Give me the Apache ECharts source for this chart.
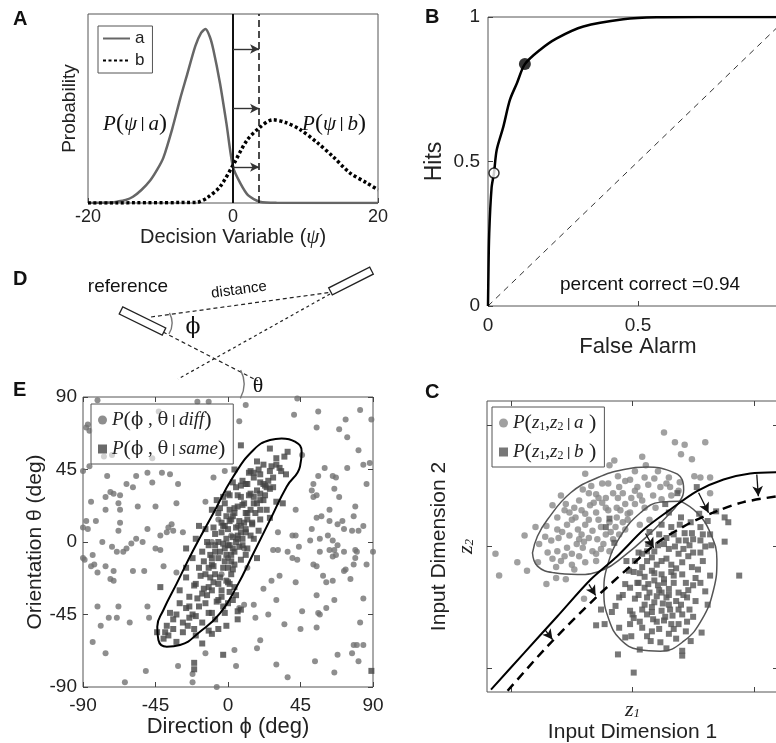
<!DOCTYPE html>
<html>
<head>
<meta charset="utf-8">
<script src="https://cdn.jsdelivr.net/npm/echarts@6/dist/echarts.min.js"></script>
<style>
  html, body { margin: 0; padding: 0; background: #fff; }
  #chart { width: 776px; height: 743px; }
</style>
</head>
<body>
<div id="chart"></div>
<script>
// ---- panel A: decision variable distributions
const curveA = [[-20,0],[-17,0.002],[-16,0.007],[-14.8,0.016],[-13.8,0.033],[-12.6,0.07],[-11.4,0.12],[-10.4,0.18],[-9.6,0.24],[-8.4,0.39],[-7.3,0.55],[-6.4,0.67],[-5.2,0.83],[-4.4,0.9],[-3.8,0.92],[-3.2,0.88],[-2.7,0.81],[-1.8,0.635],[-0.9,0.42],[0,0.19],[1,0.105],[2.1,0.04],[3.7,0.007],[6,0.001],[20,0]];
const curveB = [[-20,0],[-5,0.003],[-4.6,0.007],[-3.6,0.026],[-1.8,0.086],[0,0.2],[1.9,0.33],[3.7,0.40],[5.5,0.44],[7.3,0.425],[9.2,0.39],[11.6,0.32],[13.8,0.245],[16.1,0.16],[18.5,0.105],[20,0.07]];
const criterion = 0;
const shiftedCriterion = 3.6;
const arrowLevels = [0.815, 0.5, 0.19];

// ---- panel B: ROC
const rocCurve = [[0,0],[0.001,0.08],[0.004,0.25],[0.012,0.41],[0.02,0.46],[0.029,0.54],[0.051,0.62],[0.073,0.713],[0.096,0.77],[0.123,0.837],[0.173,0.886],[0.229,0.926],[0.318,0.967],[0.451,0.992],[0.562,0.999],[0.7,1],[1,1]];
const rocOpen = [0.02, 0.46];
const rocFilled = [0.123, 0.837];
const chanceLine = [[0,0],[1,1]];
const percentCorrect = 0.94;

// ---- panel E: direction / orientation
const diffPoints = [[-81,88],[-43,81],[-12,87],[-19,87],[-88,71],[-77,53],[-72,54],[-87,73],[-86,69],[-47,52],
[-90,44],[-86,47],[-75,41],[-57,41],[-50,43],[-41,43],[-36,42],[-9,40],[-2,44],
[-63,36],[-59,34],[-47,37],[-31,36],[-73,31],[-71,30],[-76,28],[-67,29],[-85,25],[-76,20],[-68,24],[-67,20],[-56,22],[-45,22],[-32,24],[-14,25],
[-88,13],[-82,13],[-87,8],[-90,9],[-67,12],[-68,7],[-35,11],[-37,9],[-34,7],[-38,6],[-50,8],[-57,2],[-53,0],[-60,-1],[-42,4],[-28,6],[-78,0],[-63,-4],[-72,-3],[-45,-4],[-42,-5],
[-90,-10],[-84,-8],[-89,-11],[-83,-14],[-85,-15],[-76,-15],[-69,-6],[-65,-6],[-81,-19],[-71,-18],[-59,-18],[-52,-18],[-40,-15],[-32,-19],[-73,-23],[-71,-24],
[-81,-40],[-68,-40],[-50,-40],[-79,-52],[-74,-47],[-69,-47],[-61,-50],[-49,-47],
[-84,-62],[-76,-69],[-14,-69],[-31,-77],[-51,-80],[-22,-82],[-64,-87],[-22,-87],[-7,-90],
[43,89],[11,85],[7,75],[41,79],[56,81],[82,82],[89,76],[73,76],[55,71],[69,70],[74,65],[81,57],[46,54],[84,48],[88,49],[74,46],[60,46],[56,41],[65,41],[67,40],[86,36],[53,36],[52,32],[66,33],[69,28],[53,28],[55,29],[79,22],[78,16],[63,20],[55,15],[58,16],[63,13],[68,11],[71,13],[72,8],[77,7],[81,7],[84,10],[52,8],[42,20],[31,6],[40,4],[42,4],[51,1],[57,2],[62,4],[65,1],[68,-2],[66,-5],[63,-5],[57,-6],[90,-6],[72,-6],[79,-5],[80,-6],[79,-10],[65,-9],[67,-8],[53,-14],[55,-15],[59,-21],[61,-25],[65,-24],[72,-18],[73,-17],[78,-14],[86,-14],[76,-23],[31,-5],[28,-5],[37,-6],[40,-10],[43,-11],[44,-3],[32,-21],[27,-24],[22,-29],[42,-25],[30,-36],[55,-33],[61,-41],[56,-44],[57,-45],[66,-36],[84,-35],[82,-50],[46,-43],[25,-45],[17,-47],[16,-39],[10,-39],[7,-41],[35,-51],[45,-54],[55,-53],[20,-61],[18,-66],[4,-67],[5,-77],[30,-76],[37,-84],[54,-74],[66,-81],[68,-70],[77,-69],[78,-64],[80,-64],[84,-64],[81,-74],
[0,-10],[-4,-20],[6,10],[-10,0],[10,-4],[2,4],[-6,14],[12,-16]];
const samePoints = [[8,60],[26,58],[37,56],[35,53],[30,48],[27,47],[32,46],[4,45],[19,45],[16,43],[13,43],[36,42],[20,37],[23,35],[26,33],[11,36],[8,35],[3,37],[1,29],[6,29],[13,29],[23,29],[30,25],[34,24],[20,26],[16,24],[9,23],[4,21],[11,18],[17,18],[24,20],[26,15],[20,14],[15,11],[7,13],[1,13],[5,9],[11,8],[19,7],[3,3],[9,2],[16,2],[1,-2],[7,-3],[12,-4],[18,-10],[2,-8],[8,-11],[3,-17],[0,-25],[5,-33],[1,-31],[6,-43],[8,-42],
[-1,16],[-5,21],[-9,9],[-3,10],[-26,-4],[-20,2],[-13,0],[-8,-2],[-5,-6],[-1,-8],[-11,-8],[-15,-12],[-9,-15],[-3,-16],[-17,-21],[-11,-22],[-5,-22],[-1,-24],[-21,-27],[-15,-29],[-9,-25],[-42,-28],[-19,-35],[-13,-33],[-7,-37],[-3,-40],[-10,-44],[-30,-38],[-26,-41],[-22,-45],[-24,-47],[-28,-50],[-25,-52],[-38,-52],[-39,-56],[-37,-58],[-21,-54],[-12,-55],[-10,-57],[-20,-58],[-1,-52],[-6,-54],[-21,-75],[-21,-79],[-34,-54],[-32,-45],
[-8,5],[-4,12],[0,8],[3,16],[6,4],[-2,-4],[-6,-10],[2,-12],[-12,-2],[-10,-14],[4,-6],[8,10],[12,18],[10,24],[14,30],[18,32],[22,26],[6,22],[-2,24],[0,30],[-6,18],[-14,8],[-16,-6],[-18,-16],[-12,-28],[-4,-30],[2,-20],[-8,-20],[-6,-36],[0,-16],[-1,2],[-3,-1],[5,0],[9,-2],[11,6],[15,12],[20,20],[24,34],[28,40],[16,40],[12,36],[8,28],[-10,20],[-18,10],[-22,-10],[-26,-22],[-14,-38],[-20,-46],[-30,-30],[-24,-34],[1,-26],[4,-28],[-2,-44],[3,-36],[-16,-50],[-28,-56],[-32,-62],[-34,-48],[-36,-44],[-40,-60],[-44,-56],[89,-80],[-16,-63],[22,48],[30,52],[18,50],[33,44],[-3,-70],[6,-48],
[-4,6],[-2,10],[2,14],[4,18],[-6,0],[-8,-6],[0,-2],[3,-4],[6,2],[8,6],[10,12],[12,14],[14,20],[16,28],[18,24],[20,30],[22,36],[25,38],[28,34],[-10,-10],[-12,-16],[-14,-20],[-6,-26],[-10,-30],[-16,-32],[-18,-40],[-12,-44],[-8,-48],[-4,-34],[0,-38],[-2,-12],[4,-14],[1,20],[-3,28],[5,34],[9,38],[14,44],[20,42],[26,44],[-24,-40],[-20,-26],[-26,-16],[-7,26],[11,-8],[14,4]];
const sameContour = [[33.3,64.3],[41.6,62.3],[45.7,56.1],[44.7,46.8],[36.4,34.3],[26.1,13.7],[15.8,-7.0],[5.4,-27.7],[-5.0,-44.3],[-17.4,-55.7],[-29.8,-63.9],[-38.0,-65.0],[-43.2,-60.8],[-43.9,-52.6],[-40.1,-42.2],[-31.8,-25.7],[-21.5,-5.0],[-9.1,17.8],[3.3,40.6],[15.8,57.1],[26.1,63.3],[33.3,64.3]];

// ---- panel C: two input dimensions
const aPoints = [[-0.15,0.71],[-0.19,0.67],[-0.39,0.60],[-0.41,0.47],[-0.59,0.42],[-0.66,0.34],[-0.55,0.35],[-0.44,0.38],[-0.30,0.43],[-0.22,0.40],[-0.11,0.49],[-0.06,0.54],[-0.52,0.28],[-0.47,0.24],[-0.39,0.27],[-0.30,0.28],[-0.22,0.32],[-0.13,0.32],[-0.06,0.35],[-0.80,0.16],[-0.71,0.17],[-0.62,0.24],[-0.54,0.18],[-0.45,0.14],[-0.39,0.18],[-0.33,0.13],[-0.26,0.16],[-0.19,0.20],[-0.13,0.24],[-0.04,0.27],[-0.89,0.09],[-0.77,0.02],[-0.67,0.05],[-0.61,0.07],[-0.52,0.09],[-0.44,0.06],[-0.36,0.07],[-0.29,0.06],[-0.22,0.10],[-0.11,0.10],[-0.06,0.14],[-0.70,-0.05],[-0.62,-0.04],[-0.54,-0.01],[-0.50,-0.06],[-0.41,-0.01],[-0.33,-0.04],[-0.26,-0.02],[-0.19,-0.04],[-1.13,-0.06],[-0.95,-0.13],[-0.78,-0.13],[-0.59,-0.12],[-0.50,-0.15],[-0.39,-0.13],[-0.30,-0.12],[-1.10,-0.24],[-0.87,-0.20],[-0.63,-0.17],[-0.48,-0.19],[-0.71,-0.31],[-0.63,-0.26],[-0.55,-0.27],[-0.40,-0.43],
[0.26,0.94],[0.35,0.86],[0.43,0.84],[0.60,0.86],[0.40,0.76],[0.49,0.72],[0.08,0.74],[0.11,0.67],[0.02,0.62],[-0.02,0.55],[0.10,0.57],[0.21,0.62],[0.30,0.57],[0.39,0.53],[0.51,0.58],[0.56,0.57],[0.64,0.57],[0.64,0.44],[0.04,0.49],[0.13,0.51],[0.23,0.49],[0.31,0.49],[0.38,0.46],[-0.01,0.40],[0.06,0.42],[0.17,0.42],[0.24,0.39],[0.32,0.42],[0.02,0.35],[0.10,0.32],[0.19,0.32],[-0.02,0.28],
[-0.35,0.34],[-0.25,0.36],[-0.48,0.32],[-0.16,0.44],[-0.36,0.22],[-0.28,0.22],[-0.58,0.12],[-0.42,0.10],[-0.16,0.06],[-0.08,0.20],[-0.34,0.50],[-0.25,0.52],[-0.46,0.02],[-0.66,-0.10],[0.06,0.18],[0.14,0.22],[-0.12,0.58],
[-0.42,0.30],[-0.32,0.36],[-0.20,0.30],[-0.12,0.40],[-0.28,0.40],[-0.50,0.22],[-0.40,0.04],[-0.24,0.02],[-0.14,0.16],[-0.04,0.22],[-0.56,0.30],[-0.62,0.14],[-0.72,0.08],[-0.36,0.44],[-0.20,0.52],[-0.08,0.44],[0.02,0.46],[0.18,0.56],[0.28,0.52],[-0.30,-0.06],[-0.44,-0.08],[-0.56,-0.08],[-0.18,0.12],[-0.10,0.30],[0.08,0.38]];
const bPoints = [[0.53,0.49],[0.37,0.44],[0.27,0.35],[0.69,0.29],[0.76,0.24],[0.79,0.20],[0.76,0.04],[0.88,-0.24],[0.55,0.27],[0.62,0.21],[0.56,0.16],[0.64,0.10],[0.49,0.11],[0.56,0.05],[0.43,0.11],[0.39,0.18],[0.32,0.16],[0.24,0.18],[0.28,0.07],[0.38,0.05],[0.47,0.01],[0.65,0.01],[0.56,-0.05],[0.46,-0.08],[0.38,-0.06],[0.30,-0.02],[0.21,0.01],[0.13,0.02],[0.08,-0.06],[0.16,-0.09],[0.24,-0.12],[0.32,-0.15],[0.41,-0.13],[0.49,-0.17],[0.54,-0.19],[0.64,-0.24],[0.60,-0.37],[0.50,-0.32],[0.41,-0.23],[0.32,-0.21],[0.24,-0.23],[0.16,-0.20],[0.08,-0.17],[0.01,-0.21],[-0.02,-0.34],[0.05,-0.30],[0.13,-0.31],[0.21,-0.32],[0.30,-0.35],[0.38,-0.38],[0.45,-0.42],[0.36,-0.45],[0.28,-0.42],[0.20,-0.41],[0.12,-0.42],[0.02,-0.43],[0.08,-0.52],[0.16,-0.50],[0.24,-0.53],[0.31,-0.52],[0.41,-0.56],[0.47,-0.52],[0.17,-0.60],[0.26,-0.61],[0.32,-0.64],[0.08,-0.67],[0.16,-0.70],[0.57,-0.71],[0.30,-0.72],[0.36,-0.76],[0.15,-0.78],[0.23,-0.79],[0.06,-0.85],[0.41,-0.86],[0.41,-0.90],[-0.01,-0.74],[0.01,-1.04],[-0.02,-0.53],[0.01,-0.59],
[-0.19,0.23],[-0.22,0.16],[-0.15,0.03],[-0.03,-0.20],[-0.06,-0.31],[-0.11,-0.42],[-0.14,-0.49],[-0.17,-0.54],[-0.26,-0.52],[-0.30,-0.65],[-0.23,-0.64],[-0.11,-0.67],[-0.06,-0.75],[-0.12,-0.89],
[0.18,-0.28],[0.26,-0.27],[0.34,-0.30],[0.22,-0.36],[0.30,-0.40],[0.14,-0.38],[0.10,-0.25],[0.20,-0.15],[0.28,-0.10],[0.36,-0.18],[0.44,-0.30],[0.40,-0.48],[0.33,-0.57],[0.25,-0.47],[0.18,-0.46],[0.10,-0.48],[0.05,-0.40],[0.12,-0.12],[0.35,0.00],[0.44,0.05],[0.50,-0.05],[0.52,-0.26],[0.46,-0.36],[0.27,-0.58],[0.20,-0.62],[0.12,-0.56],[0.38,-0.64],[0.45,-0.62],[0.52,-0.45],[0.58,-0.12],[0.60,0.00],[0.48,0.20],[0.40,0.24],[0.30,0.28],[0.22,0.10],[0.14,0.12],[0.05,-0.05],[-0.05,-0.12],[-0.08,-0.40],[-0.02,-0.64],
[0.26,-0.30],[0.34,-0.24],[0.42,-0.40],[0.18,-0.22],[0.10,-0.34],[0.06,-0.22],[0.24,-0.38],[0.30,-0.48],[0.38,-0.52],[0.16,-0.54],[0.22,-0.68],[0.34,-0.68],[0.44,-0.70],[0.50,-0.58],[0.56,-0.30],[0.62,-0.48],[0.58,0.10],[0.50,0.06],[0.42,-0.02],[0.34,0.10],[0.26,0.02],[0.18,-0.04],[0.12,-0.04],[0.02,-0.12],[0.04,-0.30],[0.00,-0.56],[0.06,-0.62],[0.12,-0.74],[0.28,-0.84],[0.48,-0.78]];
const aContour = [[-0.825,-0.052],[-0.784,0.085],[-0.701,0.223],[-0.510,0.443],[-0.290,0.567],[-0.071,0.635],[0.121,0.655],[0.312,0.622],[0.408,0.553],[0.422,0.470],[0.381,0.360],[0.285,0.250],[0.121,0.085],[-0.071,-0.080],[-0.236,-0.190],[-0.455,-0.231],[-0.647,-0.217],[-0.784,-0.162],[-0.825,-0.052]];
const bContour = [[0.395,0.374],[0.532,0.278],[0.641,0.113],[0.696,-0.107],[0.669,-0.355],[0.573,-0.602],[0.422,-0.781],[0.230,-0.864],[0.052,-0.850],[-0.099,-0.767],[-0.195,-0.602],[-0.236,-0.382],[-0.208,-0.162],[-0.099,0.085],[0.066,0.278],[0.230,0.366],[0.395,0.374]];
const boundarySolid = [[-1.167,-1.18],[-0.893,-0.877],[-0.619,-0.575],[-0.345,-0.272],[-0.126,-0.080],[0.093,0.140],[0.312,0.305],[0.532,0.457],[0.751,0.553],[0.970,0.602],[1.2,0.613]];
const boundaryDashed = [[-1.03,-1.19],[-0.701,-0.822],[-0.290,-0.410],[-0.016,-0.162],[0.203,0.030],[0.477,0.195],[0.696,0.292],[0.915,0.366],[1.2,0.415]];
const boundaryShifts = [[-0.723,-0.685,-0.660,-0.767],[-0.359,-0.313,-0.304,-0.404],[0.107,0.107,0.175,-0.011],[0.545,0.443,0.627,0.278],[1.025,0.594,1.038,0.415]];

const SANS = '"Liberation Sans", Arial, sans-serif';
const SERIF = '"Liberation Serif", "DejaVu Serif", serif';
const TICK = { inside: true, length: 5, lineStyle: { color: '#444' } };

const axis = (o) => Object.assign({
  type: 'value',
  nameLocation: 'middle',
  axisLine: { show: false, onZero: false },
  splitLine: { show: false },
  axisTick: TICK,
  axisLabel: { color: '#222', fontFamily: SANS, fontSize: 19 },
  nameTextStyle: { color: '#222', fontFamily: SANS, fontSize: 21 }
}, o);
// tick-only mirror axis on the top / right edge
const mirror = (o) => Object.assign({
  type: 'value', axisLine: { show: false, onZero: false }, splitLine: { show: false },
  axisLabel: { show: false }, axisTick: TICK
}, o);

const serifRich = {
  n: { fontFamily: SERIF, fontSize: 19, color: '#222' },
  p: { fontFamily: SERIF, fontSize: 22, color: '#222' },
  i: { fontFamily: SERIF, fontSize: 19, fontStyle: 'italic', color: '#222' },
  g: { fontFamily: 'DejaVu Serif', fontSize: 18, color: '#222' },
  s: { fontFamily: SERIF, fontSize: 12, color: '#222', padding: [7, 0, 0, 0] },
  b: { fontFamily: SANS, fontSize: 13, color: '#222' }
};
const legendNames = {
  diff: '{i|P}{p|(}{g|ϕ}{n| , }{g|θ}{b| | }{i|diff}{p|)}',
  same: '{i|P}{p|(}{g|ϕ}{n| , }{g|θ}{b| | }{i|same}{p|)}',
  za: '{i|P}{p|(}{i|z}{s|1}{n|,}{i|z}{s|2}{b| | }{i|a}{p| )}',
  zb: '{i|P}{p|(}{i|z}{s|1}{n|,}{i|z}{s|2}{b| | }{i|b}{p| )}'
};
const zRich = { i: { fontFamily: SERIF, fontStyle: 'italic', fontSize: 22, color: '#222' },
  s: { fontFamily: SERIF, fontStyle: 'italic', fontSize: 13, color: '#222', padding: [8, 0, 0, 0] } };

const chart = echarts.init(document.getElementById('chart'));

const gridBox = { show: true, borderColor: '#555', borderWidth: 1, outerBoundsMode: 'none', containLabel: false };

const option = {
  animation: false,
  backgroundColor: '#fff',
  grid: [
    Object.assign({ left: 88, top: 14, width: 290, height: 189 }, gridBox),
    Object.assign({ left: 488, top: 17, width: 300, height: 289 }, gridBox),
    Object.assign({ left: 83, top: 397, width: 290, height: 290 }, gridBox),
    Object.assign({ left: 487, top: 401, width: 291, height: 291 }, gridBox)
  ],
  xAxis: [
    axis({ gridIndex: 0, min: -20, max: 20, interval: 20, name: 'Decision Variable ({i|ψ})', nameGap: 21,
      axisLabel: { color: '#222', fontFamily: SANS, fontSize: 18, margin: 5 },
      nameTextStyle: { color: '#222', fontFamily: SANS, fontSize: 20,
        rich: { i: { fontFamily: SERIF, fontStyle: 'italic', fontSize: 21, color: '#222' } } } }),
    axis({ gridIndex: 1, min: 0, max: 1, interval: 0.5, name: 'False Alarm', nameGap: 28,
      axisLabel: { color: '#222', fontFamily: SANS, fontSize: 19, margin: 10 },
      nameTextStyle: { color: '#222', fontFamily: SANS, fontSize: 22 } }),
    axis({ gridIndex: 2, min: -90, max: 90, interval: 45, name: 'Direction ϕ (deg)', nameGap: 27,
      axisLabel: { color: '#222', fontFamily: SANS, fontSize: 19, margin: 9 },
      nameTextStyle: { color: '#222', fontFamily: SANS, fontSize: 22 } }),
    axis({ gridIndex: 3, min: -1.2, max: 1.2, name: 'Input Dimension 1', nameGap: 27,
      axisTick: Object.assign({ customValues: [-1, 0, 1] }, TICK),
      axisLabel: { customValues: [0], margin: 7, formatter: () => '{i|z}{s|1}', rich: zRich },
      nameTextStyle: { color: '#222', fontFamily: SANS, fontSize: 21 } }),
    mirror({ gridIndex: 2, position: 'top', min: -90, max: 90, interval: 45 }),
    mirror({ gridIndex: 3, position: 'top', min: -1.2, max: 1.2,
      axisTick: Object.assign({ customValues: [-1, 0, 1] }, TICK) })
  ],
  yAxis: [
    axis({ gridIndex: 0, min: 0, max: 1, name: 'Probability', nameGap: 9, axisTick: { show: false }, axisLabel: { show: false },
      nameTextStyle: { color: '#222', fontFamily: SANS, fontSize: 19 } }),
    axis({ gridIndex: 1, min: 0, max: 1, interval: 0.5, name: 'Hits', nameGap: 42,
      axisLabel: { color: '#222', fontFamily: SANS, fontSize: 19, margin: 8 },
      nameTextStyle: { color: '#222', fontFamily: SANS, fontSize: 23 } }),
    axis({ gridIndex: 2, min: -90, max: 90, interval: 45, name: 'Orientation θ (deg)', nameGap: 35,
      axisLabel: { color: '#222', fontFamily: SANS, fontSize: 19, margin: 6 },
      nameTextStyle: { color: '#222', fontFamily: SANS, fontSize: 21 } }),
    axis({ gridIndex: 3, min: -1.2, max: 1.2, name: 'Input Dimension 2', nameGap: 37,
      axisTick: Object.assign({ customValues: [-1, 0, 1] }, TICK),
      axisLabel: { customValues: [0], margin: 10, rotate: 90, formatter: () => '{i|z}{s|2}', rich: zRich },
      nameTextStyle: { color: '#222', fontFamily: SANS, fontSize: 21 } }),
    mirror({ gridIndex: 2, position: 'right', min: -90, max: 90, interval: 45 }),
    mirror({ gridIndex: 3, position: 'right', min: -1.2, max: 1.2,
      axisTick: Object.assign({ customValues: [-1, 0, 1] }, TICK) })
  ],
  legend: [
    { left: 98, top: 26, orient: 'vertical', selectedMode: false, data: ['a', 'b'],
      borderColor: '#555', borderWidth: 1, borderRadius: 0, backgroundColor: '#fff',
      padding: [4, 8, 4, 4], itemWidth: 27, itemHeight: 10, itemGap: 5,
      itemStyle: { opacity: 0 },
      textStyle: { fontFamily: SANS, fontSize: 17, color: '#222' } },
    { left: 91, top: 404, orient: 'vertical', selectedMode: false, data: ['diff', 'same'],
      borderColor: '#555', borderWidth: 1, borderRadius: 0, backgroundColor: 'rgba(255,255,255,0.6)',
      padding: [5, 8, 4, 7], itemWidth: 9, itemHeight: 9, itemGap: 7,
      formatter: (n) => legendNames[n], textStyle: { rich: serifRich } },
    { left: 492, top: 407, orient: 'vertical', selectedMode: false, data: ['za', 'zb'],
      borderColor: '#555', borderWidth: 1, borderRadius: 0, backgroundColor: 'rgba(255,255,255,0.6)',
      padding: [5, 8, 4, 7], itemWidth: 9, itemHeight: 9, itemGap: 7,
      formatter: (n) => legendNames[n], textStyle: { rich: serifRich } }
  ],
  series: [
    { name: 'a', type: 'line', xAxisIndex: 0, yAxisIndex: 0, data: curveA, symbol: 'none', smooth: 0.25,
      lineStyle: { color: '#666', width: 2.5 }, itemStyle: { color: '#666' },
      markLine: { silent: true, symbol: ['none', 'none'], label: { show: false },
        data: [
          { xAxis: criterion, lineStyle: { color: '#111', width: 2, type: 'solid' } },
          { xAxis: shiftedCriterion, lineStyle: { color: '#111', width: 1.5, type: [7, 4] } }
        ] } },
    { name: 'b', type: 'line', xAxisIndex: 0, yAxisIndex: 0, data: curveB, symbol: 'none', smooth: 0.3,
      lineStyle: { color: '#000', width: 3.5, type: [3, 2.5] }, itemStyle: { color: '#000' },
      markLine: { silent: true, symbol: ['none', 'arrow'], symbolSize: [7, 9], label: { show: false },
        lineStyle: { color: '#333', width: 1.4, type: 'solid' },
        data: arrowLevels.map(p => [{ coord: [criterion, p] }, { coord: [shiftedCriterion, p] }]) } },

    { type: 'line', xAxisIndex: 1, yAxisIndex: 1, data: chanceLine, symbol: 'none',
      lineStyle: { color: '#333', width: 1, type: [6, 5] } },
    { type: 'line', xAxisIndex: 1, yAxisIndex: 1, data: rocCurve, symbol: 'none', smooth: 0.3,
      lineStyle: { color: '#000', width: 2.5 } },
    { type: 'scatter', xAxisIndex: 1, yAxisIndex: 1, data: [rocOpen], symbolSize: 10,
      itemStyle: { color: '#fff', borderColor: '#000', borderWidth: 1.5 }, z: 5 },
    { type: 'scatter', xAxisIndex: 1, yAxisIndex: 1, data: [rocFilled], symbolSize: 12,
      itemStyle: { color: '#000' }, z: 5 },

    { name: 'diff', type: 'scatter', xAxisIndex: 2, yAxisIndex: 2, data: diffPoints, symbol: 'circle', symbolSize: 6,
      itemStyle: { color: '#727272' } },
    { name: 'same', type: 'scatter', xAxisIndex: 2, yAxisIndex: 2, data: samePoints, symbol: 'rect', symbolSize: 6,
      itemStyle: { color: '#454545' } },
    { type: 'line', xAxisIndex: 2, yAxisIndex: 2, data: sameContour, symbol: 'none', smooth: 0.5,
      lineStyle: { color: '#000', width: 2 }, z: 4 },

    { name: 'za', type: 'scatter', xAxisIndex: 3, yAxisIndex: 3, data: aPoints, symbol: 'circle', symbolSize: 6.5,
      itemStyle: { color: '#888' } },
    { name: 'zb', type: 'scatter', xAxisIndex: 3, yAxisIndex: 3, data: bPoints, symbol: 'rect', symbolSize: 6,
      itemStyle: { color: '#555' } },
    { type: 'line', xAxisIndex: 3, yAxisIndex: 3, data: aContour, symbol: 'none', smooth: 0.45,
      lineStyle: { color: '#555', width: 1.5 }, z: 4 },
    { type: 'line', xAxisIndex: 3, yAxisIndex: 3, data: bContour, symbol: 'none', smooth: 0.45,
      lineStyle: { color: '#555', width: 1.5 }, z: 4 },
    { type: 'line', xAxisIndex: 3, yAxisIndex: 3, data: boundarySolid, symbol: 'none', smooth: 0.3,
      lineStyle: { color: '#000', width: 2 }, z: 5,
      markLine: { silent: true, symbol: ['none', 'arrow'], symbolSize: [8, 10], label: { show: false },
        lineStyle: { color: '#111', width: 1.3, type: 'solid' },
        data: boundaryShifts.map(d => [{ coord: [d[0], d[1]] }, { coord: [d[2], d[3]] }]) } },
    { type: 'line', xAxisIndex: 3, yAxisIndex: 3, data: boundaryDashed, symbol: 'none', smooth: 0.3,
      lineStyle: { color: '#000', width: 2.5, type: [9, 6] }, z: 5 }
  ],
  graphic: [
    // panel letters
    { type: 'text', x: 13, y: 19, style: { text: 'A', font: 'bold 20px ' + SANS, fill: '#111', verticalAlign: 'middle' } },
    { type: 'text', x: 425, y: 17, style: { text: 'B', font: 'bold 20px ' + SANS, fill: '#111', verticalAlign: 'middle' } },
    { type: 'text', x: 13, y: 279, style: { text: 'D', font: 'bold 20px ' + SANS, fill: '#111', verticalAlign: 'middle' } },
    { type: 'text', x: 13, y: 390, style: { text: 'E', font: 'bold 20px ' + SANS, fill: '#111', verticalAlign: 'middle' } },
    { type: 'text', x: 425, y: 392, style: { text: 'C', font: 'bold 20px ' + SANS, fill: '#111', verticalAlign: 'middle' } },
    // panel A curve labels
    { type: 'text', x: 135, y: 124, z: 10, style: { text: '{i|P}{p|(}{g|ψ}{b| | }{i|a}{p|)}', align: 'center', verticalAlign: 'middle',
      rich: { i: { font: 'italic 21px ' + SERIF, fill: '#111' }, p: { font: '24px ' + SERIF, fill: '#111' }, g: { font: 'italic 21px ' + SERIF, fill: '#111' }, b: { font: '14px ' + SANS, fill: '#111' } } } },
    { type: 'text', x: 334, y: 124, z: 10, style: { text: '{i|P}{p|(}{g|ψ}{b| | }{i|b}{p|)}', align: 'center', verticalAlign: 'middle',
      rich: { i: { font: 'italic 21px ' + SERIF, fill: '#111' }, p: { font: '24px ' + SERIF, fill: '#111' }, g: { font: 'italic 21px ' + SERIF, fill: '#111' }, b: { font: '14px ' + SANS, fill: '#111' } } } },
    // panel B annotation
    { type: 'text', x: 560, y: 285, z: 10, style: { text: 'percent correct =' + percentCorrect, font: '19px ' + SANS, fill: '#111', verticalAlign: 'middle' } },
    // panel D schematic
    { type: 'line', shape: { x1: 151, y1: 317, x2: 333, y2: 292 }, style: { stroke: '#222', lineWidth: 1.2, lineDash: [4, 3] } },
    { type: 'line', shape: { x1: 163, y1: 332, x2: 258, y2: 381 }, style: { stroke: '#222', lineWidth: 1.2, lineDash: [4, 3] } },
    { type: 'line', shape: { x1: 330, y1: 294, x2: 178, y2: 379 }, style: { stroke: '#222', lineWidth: 1.2, lineDash: [3, 3] } },
    { type: 'rect', x: 142.5, y: 321, rotation: -0.46, z: 5, shape: { x: -24, y: -4, width: 48, height: 8 },
      style: { fill: '#fff', stroke: '#222', lineWidth: 1.3 } },
    { type: 'rect', x: 351, y: 281, rotation: 0.47, z: 5, shape: { x: -23, y: -4, width: 46, height: 8 },
      style: { fill: '#fff', stroke: '#222', lineWidth: 1.3 } },
    { type: 'arc', shape: { cx: 151, cy: 323, r: 21, startAngle: -0.5, endAngle: 0.55 },
      style: { stroke: '#777', fill: null, lineWidth: 1.4 } },
    { type: 'arc', shape: { cx: 214, cy: 384, r: 30, startAngle: -0.48, endAngle: 0.5 },
      style: { stroke: '#777', fill: null, lineWidth: 1.4 } },
    { type: 'text', x: 128, y: 287, style: { text: 'reference', font: '19px ' + SANS, fill: '#111', align: 'center', verticalAlign: 'middle' } },
    { type: 'text', x: 239, y: 290, rotation: 0.13, style: { text: 'distance', font: '15px ' + SANS, fill: '#111', align: 'center', verticalAlign: 'middle' } },
    { type: 'text', x: 193, y: 327, style: { text: 'ϕ', font: '22px "DejaVu Serif"', fill: '#111', align: 'center', verticalAlign: 'middle' } },
    { type: 'text', x: 258, y: 386, style: { text: 'θ', font: '22px ' + SERIF, fill: '#111', align: 'center', verticalAlign: 'middle' } }
  ]
};

chart.setOption(option);
</script>
</body>
</html>
